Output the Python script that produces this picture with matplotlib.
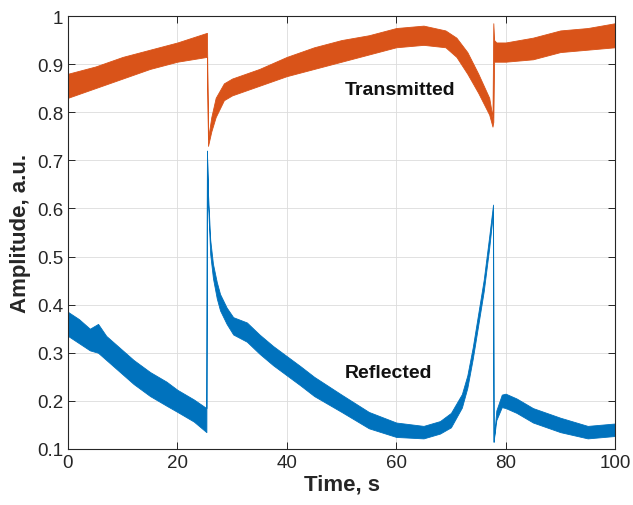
import matplotlib.pyplot as plt

plt.rcParams['font.family'] = ['Liberation Sans', 'DejaVu Sans']

# Transmitted signal: time and lower / upper edge of the noisy band
t_trans = [0, 5, 10, 15, 20, 25.4, 25.6, 26.2, 27, 28.5, 30, 35, 40, 45, 50, 55,
           60, 65, 69, 71, 73, 75, 77, 77.6, 77.75, 77.9, 78.3, 80, 85, 90, 95, 100]
lo_trans = [0.83, 0.85, 0.87, 0.89, 0.905, 0.915, 0.73, 0.76, 0.79, 0.825, 0.835,
            0.855, 0.875, 0.89, 0.905, 0.92, 0.935, 0.94, 0.935, 0.915, 0.88, 0.84,
            0.795, 0.77, 0.78, 0.905, 0.905, 0.905, 0.91, 0.925, 0.93, 0.935]
hi_trans = [0.88, 0.895, 0.915, 0.93, 0.945, 0.965, 0.745, 0.79, 0.83, 0.86, 0.87,
            0.89, 0.915, 0.935, 0.95, 0.96, 0.975, 0.98, 0.97, 0.955, 0.925, 0.88,
            0.83, 0.79, 0.985, 0.95, 0.945, 0.945, 0.955, 0.97, 0.975, 0.985]

# Reflected signal
t_refl = [0, 2, 4, 5.5, 7, 10, 12, 15, 18, 20, 23, 25.3, 25.4, 25.6, 26, 26.5, 27.2,
          27.8, 29, 30.2, 32.7, 35, 37.5, 40, 42.5, 45, 50, 55, 60, 65, 68, 70, 72,
          73, 74, 75, 76, 77, 77.7, 77.8, 78.3, 79.3, 80, 82, 85, 90, 95, 100]
lo_refl = [0.335, 0.32, 0.305, 0.30, 0.285, 0.255, 0.235, 0.21, 0.19, 0.177, 0.157,
           0.135, 0.72, 0.61, 0.505, 0.455, 0.413, 0.388, 0.36, 0.338, 0.323, 0.298,
           0.274, 0.253, 0.232, 0.21, 0.177, 0.143, 0.125, 0.122, 0.132, 0.145, 0.186,
           0.227, 0.288, 0.358, 0.428, 0.518, 0.592, 0.115, 0.16, 0.187, 0.185, 0.175,
           0.155, 0.135, 0.122, 0.127]
hi_refl = [0.385, 0.37, 0.35, 0.36, 0.335, 0.305, 0.285, 0.26, 0.24, 0.223, 0.203,
           0.185, 0.72, 0.63, 0.535, 0.485, 0.447, 0.422, 0.394, 0.374, 0.363, 0.338,
           0.314, 0.293, 0.272, 0.25, 0.213, 0.177, 0.155, 0.148, 0.158, 0.175, 0.214,
           0.253, 0.312, 0.382, 0.452, 0.542, 0.608, 0.115, 0.18, 0.213, 0.215, 0.205,
           0.185, 0.165, 0.148, 0.153]

x_ticks = [0, 20, 40, 60, 80, 100]
y_ticks = [0.1, 0.2, 0.3, 0.4, 0.5, 0.6, 0.7, 0.8, 0.9, 1.0]
y_tick_labels = ['0.1', '0.2', '0.3', '0.4', '0.5', '0.6', '0.7', '0.8', '0.9', '1']

orange = '#D95319'
blue = '#0072BD'

fig = plt.figure(figsize=(6.33, 5.06), dpi=100)
ax = fig.add_axes([0.1074, 0.1107, 0.8642, 0.8557])

ax.fill_between(t_trans, lo_trans, hi_trans, color=orange, linewidth=0.6, edgecolor=orange)
ax.fill_between(t_refl, lo_refl, hi_refl, color=blue, linewidth=0.6, edgecolor=blue)

ax.text(60.7, 0.848, 'Transmitted', fontsize=14, fontweight='bold',
        ha='center', va='center', color='#111111')
ax.text(58.5, 0.258, 'Reflected', fontsize=14, fontweight='bold',
        ha='center', va='center', color='#111111')

ax.set_xlim(0, 100)
ax.set_ylim(0.1, 1)
ax.set_xticks(x_ticks)
ax.set_yticks(y_ticks)
ax.set_yticklabels(y_tick_labels)
ax.tick_params(direction='in', top=True, right=True, labelsize=13.5,
               colors='#262626', length=5, width=0.7)
ax.grid(True, color='#dcdcdc', linewidth=0.6)
ax.set_axisbelow(True)
for s in ax.spines.values():
    s.set_color('#262626')
    s.set_linewidth(0.8)

ax.set_xlabel('Time, s', fontsize=16, fontweight='bold', color='#262626', labelpad=2)
ax.set_ylabel('Amplitude, a.u.', fontsize=16, fontweight='bold', color='#262626', labelpad=4)

fig.savefig('out.png', dpi=100)
plt.close(fig)
